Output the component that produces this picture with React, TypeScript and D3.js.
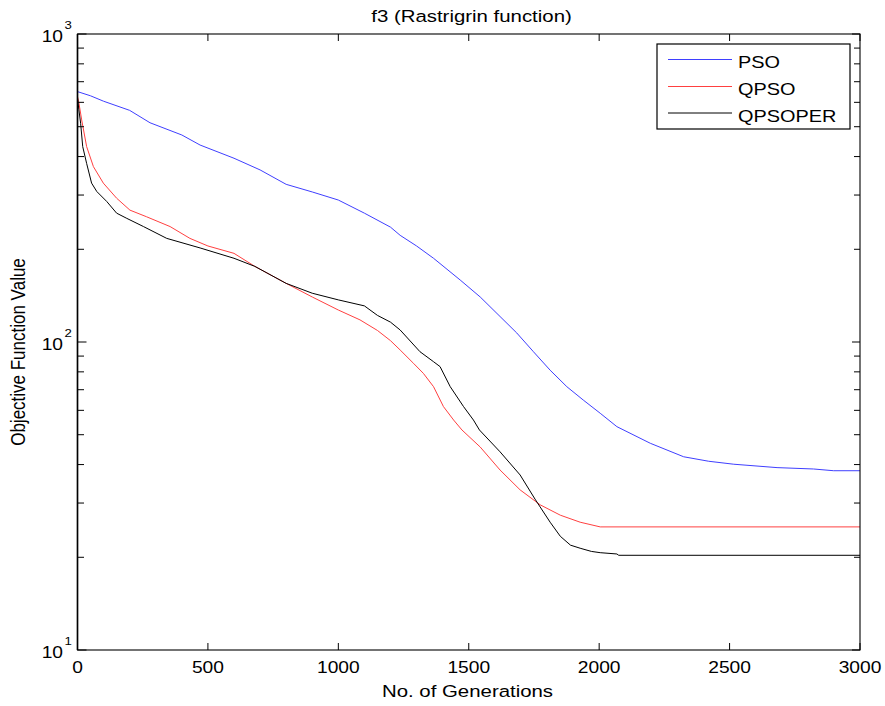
import React from 'react';
import * as d3 from 'd3';

const titleText = 'f3 (Rastrigrin function)';
const xLabelText = 'No. of Generations';
const yLabelText = 'Objective Function Value';
const xTickValues = [0, 500, 1000, 1500, 2000, 2500, 3000];
const yMajorExponents = [1, 2, 3];
const seriesNames = ['PSO', 'QPSO', 'QPSOPER'];
const seriesColors = ['#3f3fff', '#ff4040', '#000000'];

const psoGen = [0, 50, 100, 200, 278, 400, 470, 600, 700, 800, 900, 1000, 1100, 1200, 1237, 1300, 1365, 1467, 1544, 1620, 1684, 1748, 1812, 1876, 1939, 2004, 2068, 2196, 2324, 2420, 2516, 2682, 2822, 2899, 3000];
const psoVal = [650, 630, 605, 565, 515, 470, 436, 395, 362, 325, 307, 289, 262, 236, 222, 205, 187, 159, 140, 121, 107, 93, 81, 71.6, 64.8, 58.7, 53.1, 46.9, 42.4, 41, 40.1, 39.1, 38.7, 38.2, 38.2];

const qpsoGen = [0, 5, 16, 35, 61, 99, 150, 201, 265, 355, 431, 500, 600, 680, 800, 900, 1000, 1083, 1150, 1200, 1237, 1288, 1326, 1365, 1403, 1442, 1474, 1544, 1620, 1697, 1774, 1851, 1927, 2004, 3000];
const qpsoVal = [626, 600, 526, 431, 371, 328, 293, 268, 255, 237, 217, 205, 194, 176, 155, 140, 127, 118, 109, 101, 94.2, 85.3, 79.1, 71.6, 61.7, 55.8, 51.8, 45.6, 38.4, 33.1, 29.6, 27.4, 26.0, 25.1, 25.1];

const qpsoperGen = [0, 5, 12, 20, 35, 54, 74, 112, 150, 189, 253, 342, 470, 600, 680, 800, 900, 1000, 1100, 1150, 1200, 1237, 1313, 1365, 1390, 1429, 1480, 1518, 1541, 1620, 1697, 1754, 1812, 1851, 1890, 1927, 1970, 2004, 2068, 2075, 3000];
const qpsoperVal = [620, 570, 513, 431, 380, 328, 308, 286, 262, 252, 237, 217, 202, 187, 176, 155, 144, 137, 131, 122, 116, 109.4, 93, 86.3, 83.2, 71.6, 61.7, 55.8, 51.8, 44, 37, 30.9, 26, 23.4, 21.9, 21.4, 20.9, 20.7, 20.5, 20.3, 20.3];

const FONT = '"Liberation Sans", Arial, Helvetica, sans-serif';
const SX = 1.2;

function SText(props: any) {
  const { x, y, size, anchor = 'start', sx = SX, rotate, children } = props;
  const t = `translate(${x},${y}) scale(${sx},1)` + (rotate ? ` rotate(${rotate})` : '');
  return (
    <text transform={t} fontSize={size} textAnchor={anchor} fontFamily={FONT} fill="#000">
      {children}
    </text>
  );
}

export default function App() {
  const W = 885, H = 706;
  const left = 77.5, right = 860, top = 34, bottom = 650;
  const x = d3.scaleLinear().domain([0, 3000]).range([left, right]);
  const y = d3.scaleLog().domain([10, 1000]).range([bottom, top]);

  const series = [
    { name: seriesNames[0], color: seriesColors[0], gen: psoGen, val: psoVal },
    { name: seriesNames[1], color: seriesColors[1], gen: qpsoGen, val: qpsoVal },
    { name: seriesNames[2], color: seriesColors[2], gen: qpsoperGen, val: qpsoperVal },
  ];

  const line = d3.line<[number, number]>().x(d => x(d[0])).y(d => y(d[1]));

  const minorTicks: number[] = [];
  for (let e = 1; e < 3; e++) {
    for (let m = 2; m <= 9; m++) minorTicks.push(m * Math.pow(10, e));
  }

  const legendX = 657, legendY = 44, legendW = 193, legendH = 85;
  const legendRows = [59.5, 86.5, 113];

  return (
    <svg width={W} height={H} style={{ position: 'absolute', left: 0, top: 0, background: '#fff' }}>
      <rect x={0} y={0} width={W} height={H} fill="#fff" />
      {/* data lines */}
      <g>
        {series.map(s => (
          <path key={s.name} d={line(s.gen.map((g, i) => [g, s.val[i]] as [number, number])) || ''}
            fill="none" stroke={s.color} strokeWidth={1} />
        ))}
      </g>
      {/* frame */}
      <rect x={left} y={top} width={right - left} height={bottom - top} fill="none" stroke="#000" strokeWidth={1.1} />
      <line x1={left} x2={left} y1={top} y2={bottom} stroke="#000" strokeWidth={1.6} />
      {/* x ticks */}
      {xTickValues.map(v => (
        <g key={'xt' + v}>
          <line x1={x(v)} x2={x(v)} y1={bottom} y2={bottom - 7} stroke="#000" strokeWidth={1} />
          <line x1={x(v)} x2={x(v)} y1={top} y2={top + 7} stroke="#000" strokeWidth={1} />
          <SText x={x(v)} y={672.5} size={16} anchor="middle">{String(v)}</SText>
        </g>
      ))}
      {/* y major ticks */}
      {yMajorExponents.map(e => {
        const v = Math.pow(10, e);
        const yy = y(v);
        return (
          <g key={'ym' + e}>
            <line x1={left} x2={left + 9} y1={yy} y2={yy} stroke="#000" strokeWidth={1} />
            <line x1={right} x2={right - 8} y1={yy} y2={yy} stroke="#000" strokeWidth={1} />
            <SText x={63} y={yy + 8} size={16} anchor="end">10</SText>
            <SText x={64.5} y={yy - 5.5} size={11} anchor="start">{String(e)}</SText>
          </g>
        );
      })}
      {/* y minor ticks */}
      {minorTicks.map(v => (
        <g key={'yn' + v}>
          <line x1={left} x2={left + 6.5} y1={y(v)} y2={y(v)} stroke="#000" strokeWidth={1} />
          <line x1={right} x2={right - 6} y1={y(v)} y2={y(v)} stroke="#000" strokeWidth={1} />
        </g>
      ))}
      {/* title and labels */}
      <SText x={471.5} y={22} size={17} anchor="middle">{titleText}</SText>
      <SText x={467.5} y={696.5} size={17} anchor="middle">{xLabelText}</SText>
      <SText x={25} y={352} size={17} anchor="middle" rotate={-90}>{yLabelText}</SText>
      {/* legend */}
      <rect x={legendX} y={legendY} width={legendW} height={legendH} fill="#fff" stroke="#000" strokeWidth={1.2} />
      {series.map((s, i) => (
        <g key={'lg' + s.name}>
          <line x1={668} x2={732} y1={legendRows[i]} y2={legendRows[i]} stroke={s.color} strokeWidth={1} />
          <SText x={738} y={legendRows[i] + 8.5} size={17} sx={1.17}>{s.name}</SText>
        </g>
      ))}
    </svg>
  );
}
